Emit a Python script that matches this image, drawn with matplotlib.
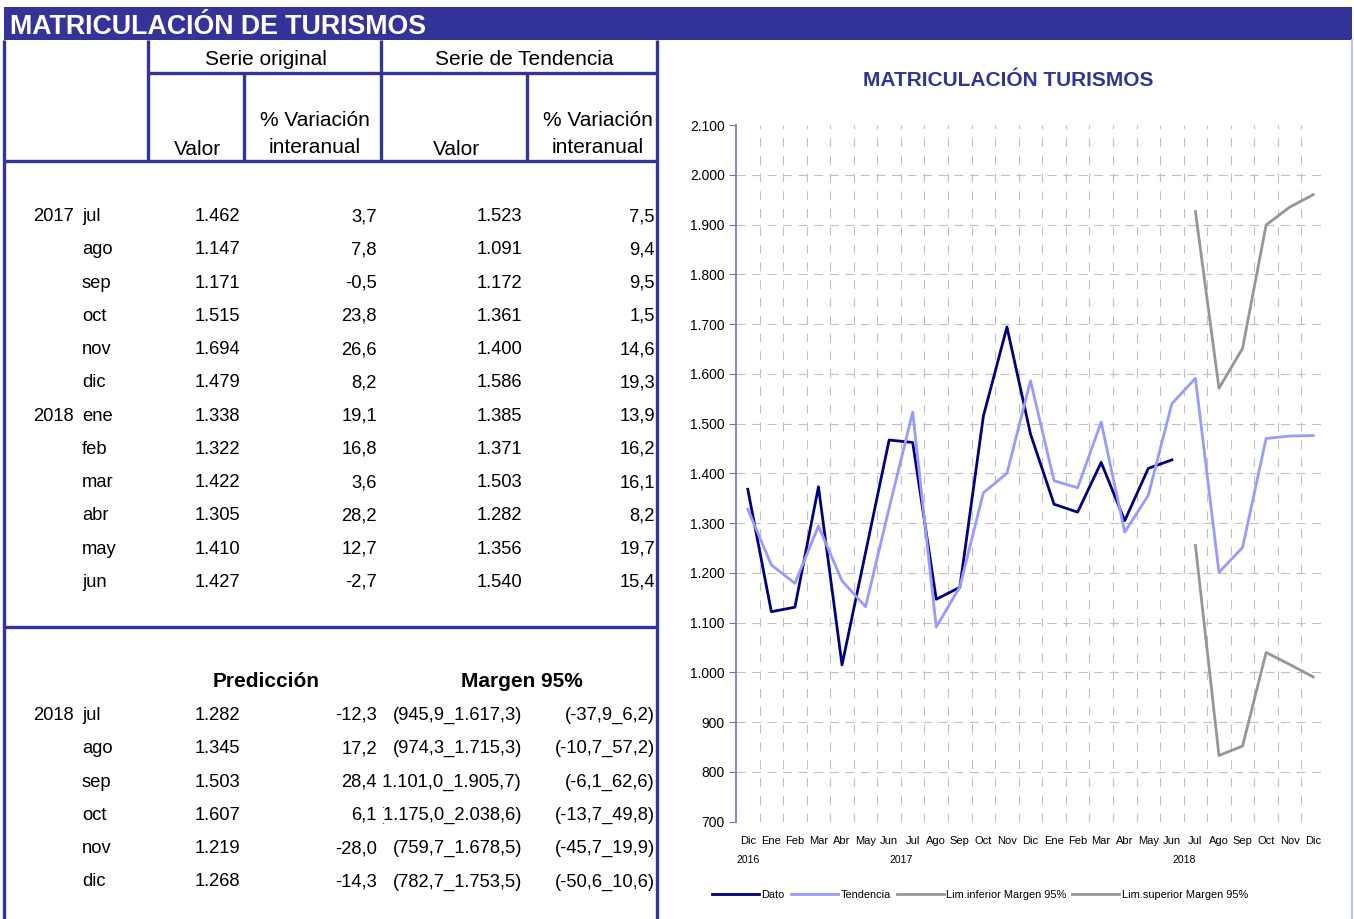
import matplotlib.pyplot as plt
import numpy as np

plt.rcParams['font.family'] = ['Liberation Sans', 'DejaVu Sans']

AZUL = '#333399'

# eje del gráfico: Dic 2016 .. Dic 2018
meses = ['Dic', 'Ene', 'Feb', 'Mar', 'Abr', 'May', 'Jun', 'Jul', 'Ago', 'Sep', 'Oct', 'Nov',
         'Dic', 'Ene', 'Feb', 'Mar', 'Abr', 'May', 'Jun', 'Jul', 'Ago', 'Sep', 'Oct', 'Nov', 'Dic']
anios = ['2016', '2017', '2018']
dato = [1368, 1122, 1131, 1373, 1015, 1241, 1467, 1462, 1147, 1171, 1515, 1694,
        1479, 1338, 1322, 1422, 1305, 1410, 1427]
tendencia = [1328, 1216, 1179, 1294, 1184, 1132, 1330, 1523, 1091, 1172, 1361, 1400,
             1586, 1385, 1371, 1503, 1282, 1356, 1540, 1591, 1201, 1251, 1470, 1475, 1476]
lim_inf = [1255, 833, 852, 1040, 1016, 991]
lim_sup = [1926, 1571, 1651, 1899, 1935, 1960]

# tabla: serie original y tendencia (jul 2017 - jun 2018)
tab_meses = ['jul', 'ago', 'sep', 'oct', 'nov', 'dic', 'ene', 'feb', 'mar', 'abr', 'may', 'jun']
tab_anios = {0: '2017', 6: '2018'}
orig_valor = [1462, 1147, 1171, 1515, 1694, 1479, 1338, 1322, 1422, 1305, 1410, 1427]
orig_var = [3.7, 7.8, -0.5, 23.8, 26.6, 8.2, 19.1, 16.8, 3.6, 28.2, 12.7, -2.7]
tend_valor = [1523, 1091, 1172, 1361, 1400, 1586, 1385, 1371, 1503, 1282, 1356, 1540]
tend_var = [7.5, 9.4, 9.5, 1.5, 14.6, 19.3, 13.9, 16.2, 16.1, 8.2, 19.7, 15.4]

# predicciones jul - dic 2018
pred_meses = ['jul', 'ago', 'sep', 'oct', 'nov', 'dic']
pred_valor = [1282, 1345, 1503, 1607, 1219, 1268]
pred_var = [-12.3, 17.2, 28.4, 6.1, -28.0, -14.3]
marg_lo = [945.9, 974.3, 1101.0, 1175.0, 759.7, 782.7]
marg_hi = [1617.3, 1715.3, 1905.7, 2038.6, 1678.5, 1753.5]
marg_var_lo = [-37.9, -10.7, -6.1, -13.7, -45.7, -50.6]
marg_var_hi = [6.2, 57.2, 62.6, 49.8, 19.9, 10.6]


def es(v, dec=0):
    s = f"{v:,.{dec}f}"
    return s.replace(',', '#').replace('.', ',').replace('#', '.')


fig = plt.figure(figsize=(13.54, 9.19), dpi=100)

# capa en píxeles para la tabla y los marcos
tb = fig.add_axes([0, 0, 1, 1])
tb.set_xlim(0, 1354)
tb.set_ylim(919, 0)
tb.axis('off')

tb.add_patch(plt.Rectangle((4, 7), 1348, 33, color=AZUL, lw=0))
tb.text(10, 34, 'MATRICULACIÓN DE TURISMOS', color='white', fontsize=19.3,
        fontweight='bold', va='baseline')

lw = 2.4
for x, y0, y1 in [(4, 40, 919), (148, 40, 161), (244, 73, 161), (381, 40, 161),
                  (527, 73, 161), (657, 40, 919)]:
    tb.plot([x, x], [y0, y1], color=AZUL, lw=lw, solid_capstyle='butt')
for y, x0, x1 in [(73, 148, 657), (161, 4, 657), (627, 4, 657)]:
    tb.plot([x0, x1], [y, y], color=AZUL, lw=lw, solid_capstyle='butt')
tb.plot([1352, 1352], [40, 919], color='#c4c4e4', lw=1.5)

fh = 15
fd = 13.2
tb.text(266, 65, 'Serie original', ha='center', fontsize=fh)
tb.text(524, 65, 'Serie de Tendencia', ha='center', fontsize=fh)
tb.text(197, 155, 'Valor', ha='center', fontsize=fh)
tb.text(456, 155, 'Valor', ha='center', fontsize=fh)
for xc in (315, 598):
    tb.text(xc, 126, '% Variación', ha='center', fontsize=fh)
    tb.text(xc, 153, 'interanual', ha='center', fontsize=fh)

for i, m in enumerate(tab_meses):
    yb = 221 + i * 33.27
    if i in tab_anios:
        tb.text(33, yb, tab_anios[i], fontsize=fd)
    tb.text(82, yb, m, fontsize=fd)
    tb.text(240, yb, es(orig_valor[i]), ha='right', fontsize=fd)
    tb.text(377, yb, es(orig_var[i], 1), ha='right', fontsize=fd)
    tb.text(522, yb, es(tend_valor[i]), ha='right', fontsize=fd)
    tb.text(655, yb, es(tend_var[i], 1), ha='right', fontsize=fd)

# el intervalo se recorta en el borde de su celda, como en la hoja de cálculo
celda = plt.Rectangle((383, 630), 274, 289, transform=tb.transData)

tb.text(266, 687, 'Predicción', ha='center', fontsize=fh, fontweight='bold')
tb.text(522, 687, 'Margen 95%', ha='center', fontsize=fh, fontweight='bold')
for i, m in enumerate(pred_meses):
    yb = 720 + i * 33.3
    if i == 0:
        tb.text(33, yb, '2018', fontsize=fd)
    tb.text(82, yb, m, fontsize=fd)
    tb.text(240, yb, es(pred_valor[i]), ha='right', fontsize=fd)
    tb.text(377, yb, es(pred_var[i], 1), ha='right', fontsize=fd)
    t = tb.text(522, yb, f"({es(marg_lo[i], 1)}_{es(marg_hi[i], 1)})", ha='right',
                fontsize=fd, clip_on=True)
    t.set_clip_path(celda)
    tb.text(655, yb, f"({es(marg_var_lo[i], 1)}_{es(marg_var_hi[i], 1)})", ha='right',
            fontsize=fd)

# gráfico de líneas
ax = fig.add_axes([736 / 1354, 1 - 821.7 / 919, 589 / 1354, 696.7 / 919])
ax.patch.set_alpha(0)
x = np.arange(len(meses))
ax.set_xlim(-0.5, len(meses) - 0.5)
ax.set_ylim(700, 2100)
yt = np.arange(700, 2101, 100)
ax.set_yticks(yt)
ax.set_yticklabels([es(v) for v in yt], fontsize=10)
ax.set_xticks(x)
ax.set_xticklabels(meses, fontsize=8)

for v in yt[1:-1]:
    ax.axhline(v, color='#c0c0c0', lw=0.8, ls=(0, (8, 6)), zorder=0)
for xv in x[:-1] + 0.5:
    ax.axvline(xv, color='#c0c0c0', lw=0.8, ls=(0, (8, 8)), zorder=0)

for s in ('top', 'right', 'bottom'):
    ax.spines[s].set_visible(False)
ax.spines['left'].set_color('#7070c0')
ax.spines['left'].set_linewidth(1.2)
ax.tick_params(axis='y', color='#7070c0', length=5, pad=3)
ax.tick_params(axis='x', length=0, pad=10)

l1, = ax.plot(x[:len(dato)], dato, color='#000080', lw=2.0, label='Dato')
l2, = ax.plot(x, tendencia, color='#9999ff', lw=2.0, label='Tendencia')
l3, = ax.plot(x[-len(lim_inf):], lim_inf, color='#969696', lw=2.0,
              label='Lim.inferior Margen 95%')
l4, = ax.plot(x[-len(lim_sup):], lim_sup, color='#969696', lw=2.0,
              label='Lim.superior Margen 95%')

for xa, a in zip([0, 6.5, 18.5], anios):
    ax.text(xa, -0.055, a, transform=ax.get_xaxis_transform(), ha='center',
            va='center', fontsize=7.5)

fig.text(1008 / 1354, 1 - 81 / 919, 'MATRICULACIÓN TURISMOS', color=AZUL, fontsize=15,
         fontweight='bold', ha='center', va='center')

fig.legend(handles=[l1, l2, l3, l4], loc='center', bbox_to_anchor=(980 / 1354, 1 - 895 / 919),
           ncol=4, frameon=False, fontsize=7.9, handlelength=4.3, handletextpad=0.2,
           columnspacing=0.55)

fig.savefig('out.png', dpi=100)
